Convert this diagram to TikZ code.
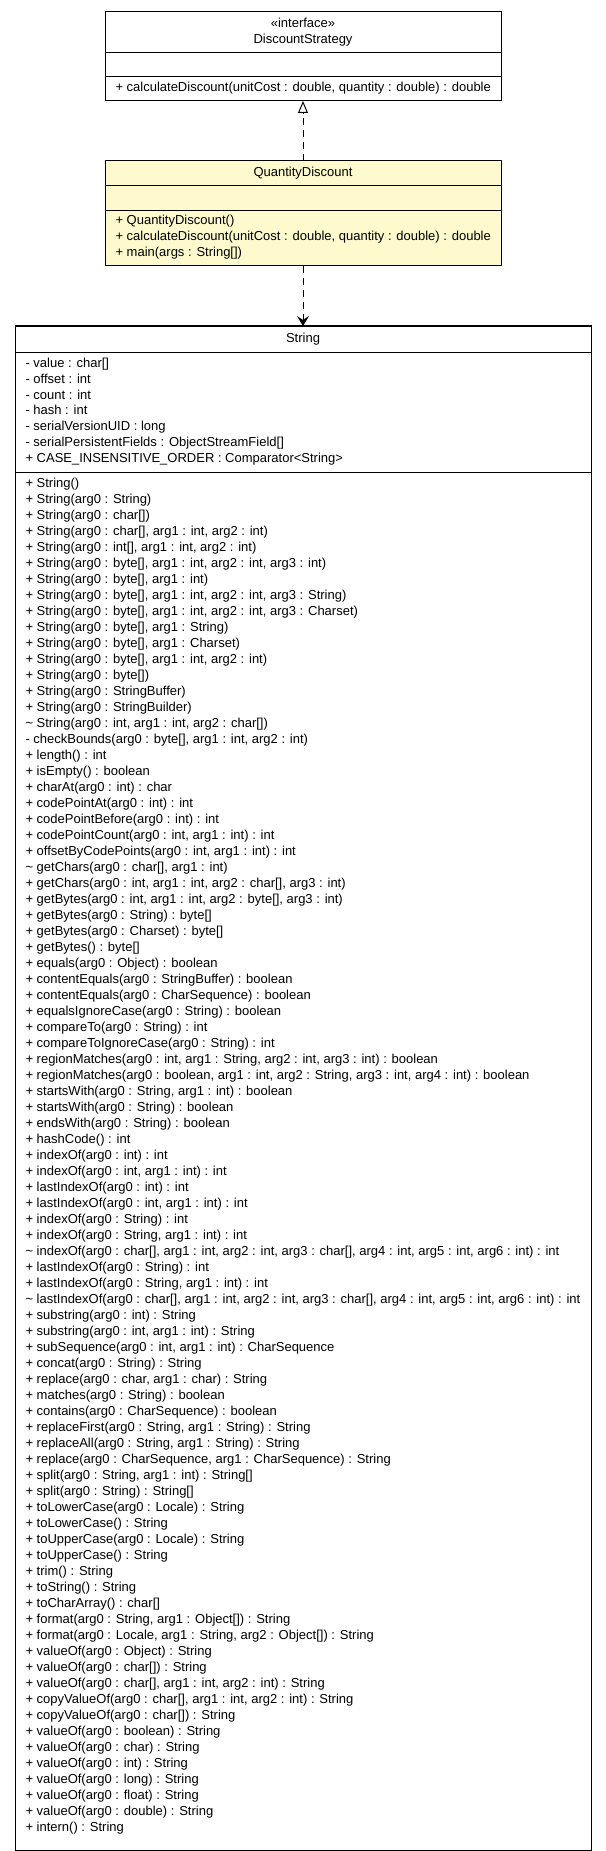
\documentclass[tikz,border=0pt]{standalone}
\usepackage{fontspec}
\setmainfont{Liberation Sans}
\usetikzlibrary{arrows.meta}
\definecolor{qdfill}{RGB}{255,249,206}
\tikzset{
  umlbox/.style={draw=black, line width=1pt, inner sep=0pt, outer sep=0pt, anchor=north west},
  umltxt/.style={inner sep=0pt, outer sep=0pt, anchor=base west, font=\fontsize{13}{16}\selectfont},
  umltitle/.style={inner sep=0pt, outer sep=0pt, anchor=base, font=\fontsize{13}{16}\selectfont},
  divider/.style={line width=1pt},
  depline/.style={line width=1pt, dash pattern=on 7pt off 5pt},
}
\begin{document}
\begin{tikzpicture}[x=1pt,y=-1pt]
\useasboundingbox (0,0) rectangle (605,1851);
\fill[white] (0,0) rectangle (605,1851);
% DiscountStrategy
\node[umlbox, fill=white, minimum width=396pt, minimum height=89pt] (ds) at (105,12) {};
\draw[divider] (105,53) -- (501,53);
\draw[divider] (105,77) -- (501,77);
\node[umltitle] (dsst) at (303,28) {«interface»};
\node[umltitle] (dsname) at (303,44) {DiscountStrategy};
\node[umltxt] (dsm1) at (115.5,92) {+ calculateDiscount(unitCost : double, quantity : double) : double};
% QuantityDiscount
\node[umlbox, fill=qdfill, minimum width=396pt, minimum height=105pt] (qd) at (105,161) {};
\draw[divider] (105,186) -- (501,186);
\draw[divider] (105,211) -- (501,211);
\node[umltitle] (qdname) at (303,177) {QuantityDiscount};
\node[umltxt] (qdm1) at (115.5,225) {+ QuantityDiscount()};
\node[umltxt] (qdm2) at (115.5,241) {+ calculateDiscount(unitCost : double, quantity : double) : double};
\node[umltxt] (qdm3) at (115.5,257) {+ main(args : String[])};
% String
\node[umlbox, fill=white, minimum width=576pt, minimum height=1524pt] (str) at (15,326) {};
\draw[divider] (15,352) -- (591,352);
\draw[divider] (15,472) -- (591,472);
\node[umltitle] (strname) at (303,342) {String};
\foreach \t [count=\i] in {
{- value : char[]},
{- offset : int},
{- count : int},
{- hash : int},
{- serialVersionUID : long},
{- serialPersistentFields : ObjectStreamField[]},
{+ CASE\_INSENSITIVE\_ORDER : Comparator<String>}}
{\node[umltxt] (sa\i) at (25.5,{367.5+15.83*(\i-1)}) {\t};}
\foreach \t [count=\i] in {
{+ String()},
{+ String(arg0 : String)},
{+ String(arg0 : char[])},
{+ String(arg0 : char[], arg1 : int, arg2 : int)},
{+ String(arg0 : int[], arg1 : int, arg2 : int)},
{+ String(arg0 : byte[], arg1 : int, arg2 : int, arg3 : int)},
{+ String(arg0 : byte[], arg1 : int)},
{+ String(arg0 : byte[], arg1 : int, arg2 : int, arg3 : String)},
{+ String(arg0 : byte[], arg1 : int, arg2 : int, arg3 : Charset)},
{+ String(arg0 : byte[], arg1 : String)},
{+ String(arg0 : byte[], arg1 : Charset)},
{+ String(arg0 : byte[], arg1 : int, arg2 : int)},
{+ String(arg0 : byte[])},
{+ String(arg0 : StringBuffer)},
{+ String(arg0 : StringBuilder)},
{\textasciitilde{} String(arg0 : int, arg1 : int, arg2 : char[])},
{- checkBounds(arg0 : byte[], arg1 : int, arg2 : int)},
{+ length() : int},
{+ isEmpty() : boolean},
{+ charAt(arg0 : int) : char},
{+ codePointAt(arg0 : int) : int},
{+ codePointBefore(arg0 : int) : int},
{+ codePointCount(arg0 : int, arg1 : int) : int},
{+ offsetByCodePoints(arg0 : int, arg1 : int) : int},
{\textasciitilde{} getChars(arg0 : char[], arg1 : int)},
{+ getChars(arg0 : int, arg1 : int, arg2 : char[], arg3 : int)},
{+ getBytes(arg0 : int, arg1 : int, arg2 : byte[], arg3 : int)},
{+ getBytes(arg0 : String) : byte[]},
{+ getBytes(arg0 : Charset) : byte[]},
{+ getBytes() : byte[]},
{+ equals(arg0 : Object) : boolean},
{+ contentEquals(arg0 : StringBuffer) : boolean},
{+ contentEquals(arg0 : CharSequence) : boolean},
{+ equalsIgnoreCase(arg0 : String) : boolean},
{+ compareTo(arg0 : String) : int},
{+ compareToIgnoreCase(arg0 : String) : int},
{+ regionMatches(arg0 : int, arg1 : String, arg2 : int, arg3 : int) : boolean},
{+ regionMatches(arg0 : boolean, arg1 : int, arg2 : String, arg3 : int, arg4 : int) : boolean},
{+ startsWith(arg0 : String, arg1 : int) : boolean},
{+ startsWith(arg0 : String) : boolean},
{+ endsWith(arg0 : String) : boolean},
{+ hashCode() : int},
{+ indexOf(arg0 : int) : int},
{+ indexOf(arg0 : int, arg1 : int) : int},
{+ lastIndexOf(arg0 : int) : int},
{+ lastIndexOf(arg0 : int, arg1 : int) : int},
{+ indexOf(arg0 : String) : int},
{+ indexOf(arg0 : String, arg1 : int) : int},
{\textasciitilde{} indexOf(arg0 : char[], arg1 : int, arg2 : int, arg3 : char[], arg4 : int, arg5 : int, arg6 : int) : int},
{+ lastIndexOf(arg0 : String) : int},
{+ lastIndexOf(arg0 : String, arg1 : int) : int},
{\textasciitilde{} lastIndexOf(arg0 : char[], arg1 : int, arg2 : int, arg3 : char[], arg4 : int, arg5 : int, arg6 : int) : int},
{+ substring(arg0 : int) : String},
{+ substring(arg0 : int, arg1 : int) : String},
{+ subSequence(arg0 : int, arg1 : int) : CharSequence},
{+ concat(arg0 : String) : String},
{+ replace(arg0 : char, arg1 : char) : String},
{+ matches(arg0 : String) : boolean},
{+ contains(arg0 : CharSequence) : boolean},
{+ replaceFirst(arg0 : String, arg1 : String) : String},
{+ replaceAll(arg0 : String, arg1 : String) : String},
{+ replace(arg0 : CharSequence, arg1 : CharSequence) : String},
{+ split(arg0 : String, arg1 : int) : String[]},
{+ split(arg0 : String) : String[]},
{+ toLowerCase(arg0 : Locale) : String},
{+ toLowerCase() : String},
{+ toUpperCase(arg0 : Locale) : String},
{+ toUpperCase() : String},
{+ trim() : String},
{+ toString() : String},
{+ toCharArray() : char[]},
{+ format(arg0 : String, arg1 : Object[]) : String},
{+ format(arg0 : Locale, arg1 : String, arg2 : Object[]) : String},
{+ valueOf(arg0 : Object) : String},
{+ valueOf(arg0 : char[]) : String},
{+ valueOf(arg0 : char[], arg1 : int, arg2 : int) : String},
{+ copyValueOf(arg0 : char[], arg1 : int, arg2 : int) : String},
{+ copyValueOf(arg0 : char[]) : String},
{+ valueOf(arg0 : boolean) : String},
{+ valueOf(arg0 : char) : String},
{+ valueOf(arg0 : int) : String},
{+ valueOf(arg0 : long) : String},
{+ valueOf(arg0 : float) : String},
{+ valueOf(arg0 : double) : String},
{+ intern() : String}}
{\node[umltxt] (sm\i) at (25.5,{487.5+16*(\i-1)}) {\t};}
% connectors
\draw[depline, -{Triangle[open, length=12pt, width=10pt, line width=1pt, sep=0pt]}] (qd.north) -- (ds.south);
\draw[depline, -{Stealth[length=10pt, width=12pt, inset=4pt]}] (qd.south) -- (str.north);
\end{tikzpicture}
\end{document}
